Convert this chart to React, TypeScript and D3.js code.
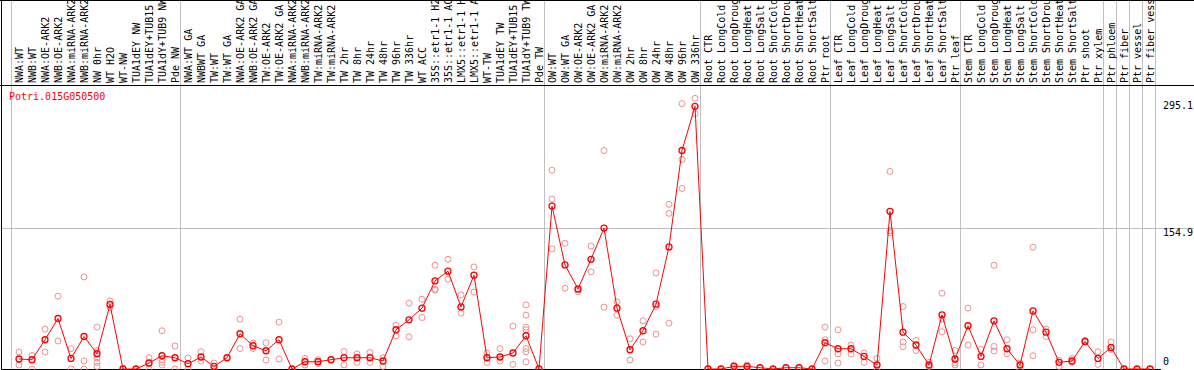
import React from "react";
import * as d3 from "d3";

const title = "Potri.015G050500";

const categories: string[] = [
  "NWA:WT", "NWB:WT", "NWA:OE-ARK2", "NWB:OE-ARK2", "NWA:miRNA-ARK2", "NWB:miRNA-ARK2", "NW 0hr", "WT H2O", "WT-NW", "TUA1dEY NW", "TUA1dEY+TUB15 NW", "TUA1dY+TUB9 NW", "Pde NW",
  "NWA:WT GA", "NWBWT GA", "TW:WT", "TW:WT GA", "NWA:OE-ARK2 GA", "NWB:OE-ARK2 GA", "TW:OE-ARK2", "TW:OE-ARK2 GA", "NWA:miRNA-ARK2", "NWB:miRNA-ARK2", "TW:miRNA-ARK2", "TW:miRNA-ARK2", "TW 2hr", "TW 8hr", "TW 24hr", "TW 48hr", "TW 96hr", "TW 336hr", "WT ACC", "35S::etr1-1 H2O", "35S::etr1-1 ACC", "LMX5::etr1-1 H2O", "LMX5::etr1-1 ACC", "WT-TW", "TUA1dEY TW", "TUA1dEY+TUB15 TW", "TUA1dY+TUB9 TW", "Pde TW",
  "OW:WT", "OW:WT GA", "OW:OE-ARK2", "OW:OE-ARK2 GA", "OW:miRNA-ARK2", "OW:miRNA-ARK2", "OW 2hr", "OW 8hr", "OW 24hr", "OW 48hr", "OW 96hr", "OW 336hr",
  "Root CTR", "Root LongCold", "Root LongDrought", "Root LongHeat", "Root LongSalt", "Root ShortCold", "Root ShortDrought", "Root ShortHeat", "Root ShortSalt", "Ptr root",
  "Leaf CTR", "Leaf LongCold", "Leaf LongDrought", "Leaf LongHeat", "Leaf LongSalt", "Leaf ShortCold", "Leaf ShortDrought", "Leaf ShortHeat", "Leaf ShortSalt", "Ptr leaf",
  "Stem CTR", "Stem LongCold", "Stem LongDrought", "Stem LongHeat", "Stem LongSalt", "Stem ShortCold", "Stem ShortDrought", "Stem ShortHeat", "Stem ShortSalt", "Ptr shoot", "Ptr xylem",
  "Ptr phloem", "Ptr fiber", "Ptr vessel", "Ptr fiber vessel",
];

const groupSizes: number[] = [13, 28, 12, 10, 10, 11, 1, 1, 1, 1];

const means: number[] = [
  11.0, 10.2, 32.2, 55.6, 11.6, 35.8, 16.8, 71.0, 0, 0, 6.6, 14.6, 12.4,
  5.8, 13.2, 2.9, 12.4, 38.8, 25.6, 20.1, 32.2, 0, 8.0, 8.0, 10.2, 12.4, 12.4, 12.4, 8.8, 43.2, 54.2, 67.0, 97.0, 107.7, 68.4, 103.3, 12.4, 13.2, 17.6, 36.6, 0,
  179.4, 114.6, 88.2, 120.8, 155.2, 67.0, 21.2, 42.1, 71.4, 134.4, 240.6, 289.2,
  0, 0, 2.9, 2.9, 1.4, 0, 1.4, 1.4, 0, 28.9,
  22.3, 22.3, 13.8, 4.4, 173.6, 40.6, 26.4, 4.4, 59.7, 11.0,
  47.6, 13.8, 53.1, 22.3, 4.4, 64.0, 40.6, 7.3, 8.8, 30.3, 11.6,
  23.7, 0, 0, 0,
];

const replicates: number[][] = [
  [18.7, 4.4], [14.9, 0], [43.9, 18.7], [80.2, 30.8], [22.3, 0], [101.4, 8.8, 0], [46.1, 20.1, 12.1, 7.3, 2.9], [75.0, 67.7], [0], [0], [12.4, 0], [42.1, 10.2, 7.3, 4.4], [25.3, 0],
  [12.1, 0], [19.0, 8.8], [6.6, 0], [12.4], [54.9, 22.6], [28.6, 22.6], [28.9, 9.9], [51.6, 11.0], [0], [11.6, 4.4], [10.2, 5.8], [10.2], [19.3, 4.4], [16.5, 7.3], [18.2, 7.3], [12.4, 2.9], [48.3, 36.6], [72.5, 35.5], [76.9, 56.7], [114.2, 87.9, 86.8], [120.8, 98.9], [81.6, 61.5], [112.4, 84.6], [17.6, 7.3], [22.3, 8.8], [47.2, 5.1], [70.6, 59.3, 46.1, 43.2, 22.6, 19.0, 8.0], [0],
  [218.9, 187.1, 132.2], [138.4, 89.0], [87.1, 85.2], [135.4, 106.9], [240.6, 68.1], [73.9, 59.3], [33.3, 9.9], [53.1, 29.7], [105.8, 68.8, 38.4], [181.3, 171.4, 50.5], [292.2, 230.7, 198.8], [298.0, 281.2],
  [0], [0], [4.4, 1.4], [4.4, 1.4], [1.4], [0], [1.4], [1.4], [0], [46.1, 32.2, 8.8],
  [43.2, 16.5, 6.6], [26.4, 16.5], [17.6, 7.3], [11.6, 0], [217.5, 152.3, 150.1], [68.8, 29.7, 24.5], [31.4, 20.4], [7.3, 2.9], [83.5, 54.9, 41.0], [20.4, 6.6, 4.4],
  [67.0, 26.4], [21.5, 4.4], [114.2, 24.8, 19.8], [32.2, 16.8], [6.6, 0], [134.0, 43.2, 14.6], [43.9, 35.8], [9.4, 2.9], [11.6, 7.3], [31.4], [19.0, 5.1],
  [29.7, 21.5], [0], [0], [0],
];

const yTicks: number[] = [0, 154.9, 295.1];
const gridValues: number[] = [154.9];

const W = 1194;
const H = 370;
const FONT = "'DejaVu Sans Mono', monospace";

export default function App() {
  const idx = categories.map((_, i) => i);
  const x = d3.scaleBand<number>().domain(idx).range([11, 11 + 13 * categories.length]).paddingInner(0).paddingOuter(0);
  const px = (i: number) => (x(i) as number) + 8;
  const y = d3.scaleLinear().domain([0, 295.1]).range([369, 101]);

  const boundaries: number[] = [];
  let acc = 0;
  boundaries.push(0);
  groupSizes.forEach((g) => {
    acc += g;
    boundaries.push(acc);
  });
  const bx = (b: number) => (b < categories.length ? (x(b) as number) : (x(categories.length - 1) as number) + x.bandwidth());

  const line = d3
    .line<number>()
    .x((_, i) => px(i))
    .y((d) => y(d));

  const plotRight = 1161;

  return (
    <svg
      width={W}
      height={H}
      style={{ position: "absolute", left: 0, top: 0, background: "#fff" }}
      fontFamily={FONT}
      fontSize={10}
    >
      <rect x={0} y={0} width={W} height={H} fill="#fff" />
      {/* vertical group lines */}
      {boundaries.map((b, i) => (
        <line key={"v" + i} x1={Math.round(bx(b)) + 0.5} x2={Math.round(bx(b)) + 0.5} y1={0} y2={369} stroke="#c0c0c0" strokeWidth={1} />
      ))}
      {/* horizontal grid */}
      {gridValues.map((v, i) => (
        <line key={"h" + i} x1={1} x2={W} y1={Math.round(y(v)) + 0.5} y2={Math.round(y(v)) + 0.5} stroke="#c0c0c0" strokeWidth={1} />
      ))}
      {/* frame */}
      <line x1={0} x2={W} y1={0.5} y2={0.5} stroke="#000" />
      <line x1={0} x2={W} y1={85.5} y2={85.5} stroke="#000" />
      <line x1={1.5} x2={1.5} y1={0} y2={370} stroke="#000" />
      <line x1={1} x2={plotRight} y1={369.5} y2={369.5} stroke="#000" />
      {/* category labels */}
      {categories.map((c, i) => (
        <text key={"l" + i} transform={`translate(${px(i) + 4},83) rotate(-90)`} fill="#000">
          {c}
        </text>
      ))}
      {/* y tick labels */}
      {yTicks.map((v, i) => (
        <text key={"t" + i} x={1163} y={v === 0 ? y(v) - 4 : y(v) + 8} fill="#000">
          {v === 0 ? "0" : v.toFixed(1)}
        </text>
      ))}
      {/* title */}
      <text x={9} y={100} fill="#ff0000">
        {title}
      </text>
      {/* replicates */}
      {replicates.map((reps, i) =>
        reps.map((v, j) => (
          <circle key={`r${i}-${j}`} cx={px(i)} cy={y(v)} r={3} fill="none" stroke="#f09090" strokeWidth={1} />
        ))
      )}
      {/* mean line */}
      <path d={line(means) || ""} fill="none" stroke="#ff0000" strokeWidth={1} />
      {means.map((v, i) => (
        <circle key={"m" + i} cx={px(i)} cy={y(v)} r={3} fill="none" stroke="#ff0000" strokeWidth={1.3} />
      ))}
    </svg>
  );
}
